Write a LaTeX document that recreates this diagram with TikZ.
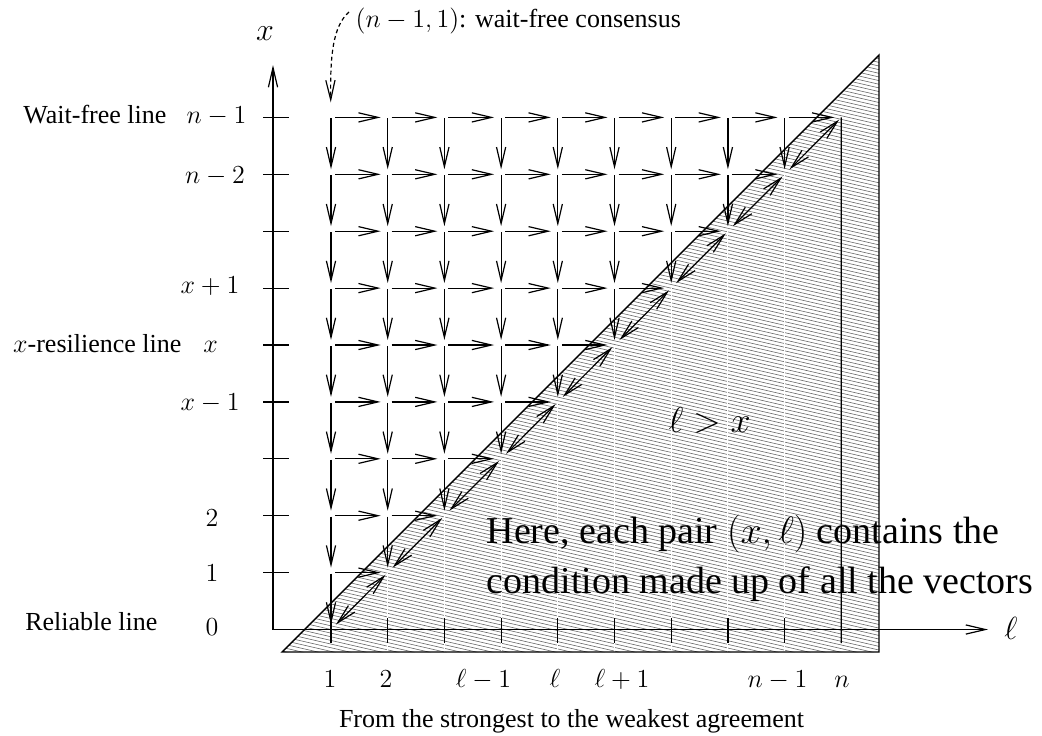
\RequirePackage{fix-cm}
\documentclass[tikz,border=0pt]{standalone}
\usepackage{fontspec}
\setmainfont{Liberation Serif}
\usetikzlibrary{arrows.meta}
\newcommand\nf{\fontsize{13}{15}\selectfont}
\newcommand\bigf{\fontsize{19}{24}\selectfont}
\begin{document}
\begin{tikzpicture}[x=0.5pt,y=-0.5pt,line width=0.6pt,
  tip/.tip={Straight Barb[length=9.8pt,width=4.6pt]},
  harr/.style={-tip,shorten <=2pt,shorten >=3.5pt},
  varr/.style={-tip,shorten <=0.5pt,shorten >=2.5pt},
  darr/.style={tip-tip,shorten <=3.5pt,shorten >=1.5pt},
  hatch/.style={line width=0.3pt,black!60},
  lab/.style={inner sep=0pt,font=\nf},
  tick/.style={line width=0.6pt}]
\useasboundingbox (0,0) rectangle (1042,735);
% grid points
\foreach \l in {1,...,10}{
  \foreach \k in {0,...,9}{
    \coordinate (p\l-\k) at ({331+56.7*(\l-1)},{629.5-56.9*\k});
  }
}
% hatched triangle
\coordinate (tA) at (282,652);
\coordinate (tB) at (879,55);
\coordinate (tC) at (879,652);
\begin{scope}
  \clip (tA) -- (tB) -- (tC) -- cycle;
  \foreach \i in {0,...,210}{
    \draw[hatch] (270,{-100+\i*3.65}) -- ++(620,143);
  }
  \foreach \l in {2,...,9}{
    \pgfmathtruncatemacro\km{\l-1}
    \draw[white,line width=0.5pt] (p\l-\km) -- (p\l-\km |- tA);
  }
\end{scope}
\draw[line width=0.7pt] (tA) -- (tB) -- (tC) -- cycle;
% axes
\coordinate (O) at (273,629.5);
\coordinate (yend) at (273,65);
\coordinate (xend) at (988,629.5);
\draw[-tip] (O) -- (yend);
\draw[-tip] (O) -- (xend);
\foreach \k in {1,...,9}{
  \draw[tick] (263,{629.5-56.9*\k}) -- (289,{629.5-56.9*\k});
}
\foreach \l in {1,...,9}{
  \draw[tick] ({331+56.7*(\l-1)},618) -- ({331+56.7*(\l-1)},643);
}
\coordinate (nbot) at (841.3,643);
\draw (p10-9) -- (nbot);
% arrows of the lattice
\foreach \k in {1,...,9}{
  \foreach \l in {1,...,\k}{
    \pgfmathtruncatemacro\ln{\l+1}
    \pgfmathtruncatemacro\km{\k-1}
    \draw[harr] (p\l-\k) -- (p\ln-\k);
    \draw[varr] (p\l-\k) -- (p\l-\km);
  }
}
\foreach \l in {1,...,9}{
  \pgfmathtruncatemacro\ln{\l+1}
  \pgfmathtruncatemacro\km{\l-1}
  \draw[darr] (p\l-\km) -- (p\ln-\l);
}
% top label and dashed arrow
\node[lab,anchor=base west] (toplab) at (355,27) {$(n-1,1)$: wait-free consensus};
\coordinate (dstart) at (349,12);
\draw[-tip,dash pattern=on 2pt off 1.5pt,shorten >=7.5pt] (dstart) .. controls (333,26) and (330,55) .. (p1-9);
% axis labels
\node[lab,font=\fontsize{16}{18}\selectfont] (xlab) at (265,34) {$x$};
\node[lab,anchor=base,font=\fontsize{16}{18}\selectfont] (llab) at (1011,639) {$\ell$};
% left labels
\node[lab,anchor=base east] (wfl) at (167,123) {Wait-free line};
\node[lab,anchor=base east] (xrl) at (182,352) {$x$-resilience line};
\node[lab,anchor=base east] (rl) at (158,630) {Reliable line};
\node[lab,anchor=base] (y9) at (216.5,123) {$n-1$};
\node[lab,anchor=base] (y8) at (215,183) {$n-2$};
\node[lab,anchor=base] (y6) at (210,293) {$x+1$};
\node[lab,anchor=base] (y5) at (210.5,352) {$x$};
\node[lab,anchor=base] (y4) at (210,410) {$x-1$};
\node[lab,anchor=base] (y2) at (212,526) {$2$};
\node[lab,anchor=base] (y1) at (212,581) {$1$};
\node[lab,anchor=base] (y0) at (212,635) {$0$};
% bottom labels
\node[lab,anchor=base] (b1) at (330,687) {$1$};
\node[lab,anchor=base] (b2) at (386,687) {$2$};
\node[lab,anchor=base] (b3) at (483.5,687) {$\ell-1$};
\node[lab,anchor=base] (b4) at (555,687) {$\ell$};
\node[lab,anchor=base] (b5) at (622,687) {$\ell+1$};
\node[lab,anchor=base] (b6) at (777.5,687) {$n-1$};
\node[lab,anchor=base] (b7) at (842,687) {$n$};
\node[lab,anchor=base] (cap) at (571.5,727) {From the strongest to the weakest agreement};
% inside labels
\node[lab,anchor=base west,font=\fontsize{18}{20}\selectfont] (lgx) at (668,432) {$\ell>x$};
\node[inner sep=0pt,anchor=base west,font=\bigf] (here1) at (486,543) {Here, each pair $(x,\ell)$ contains the};
\node[inner sep=0pt,anchor=base west,font=\bigf] (here2) at (486,593) {condition made up of all the vectors};
\end{tikzpicture}
\end{document}
